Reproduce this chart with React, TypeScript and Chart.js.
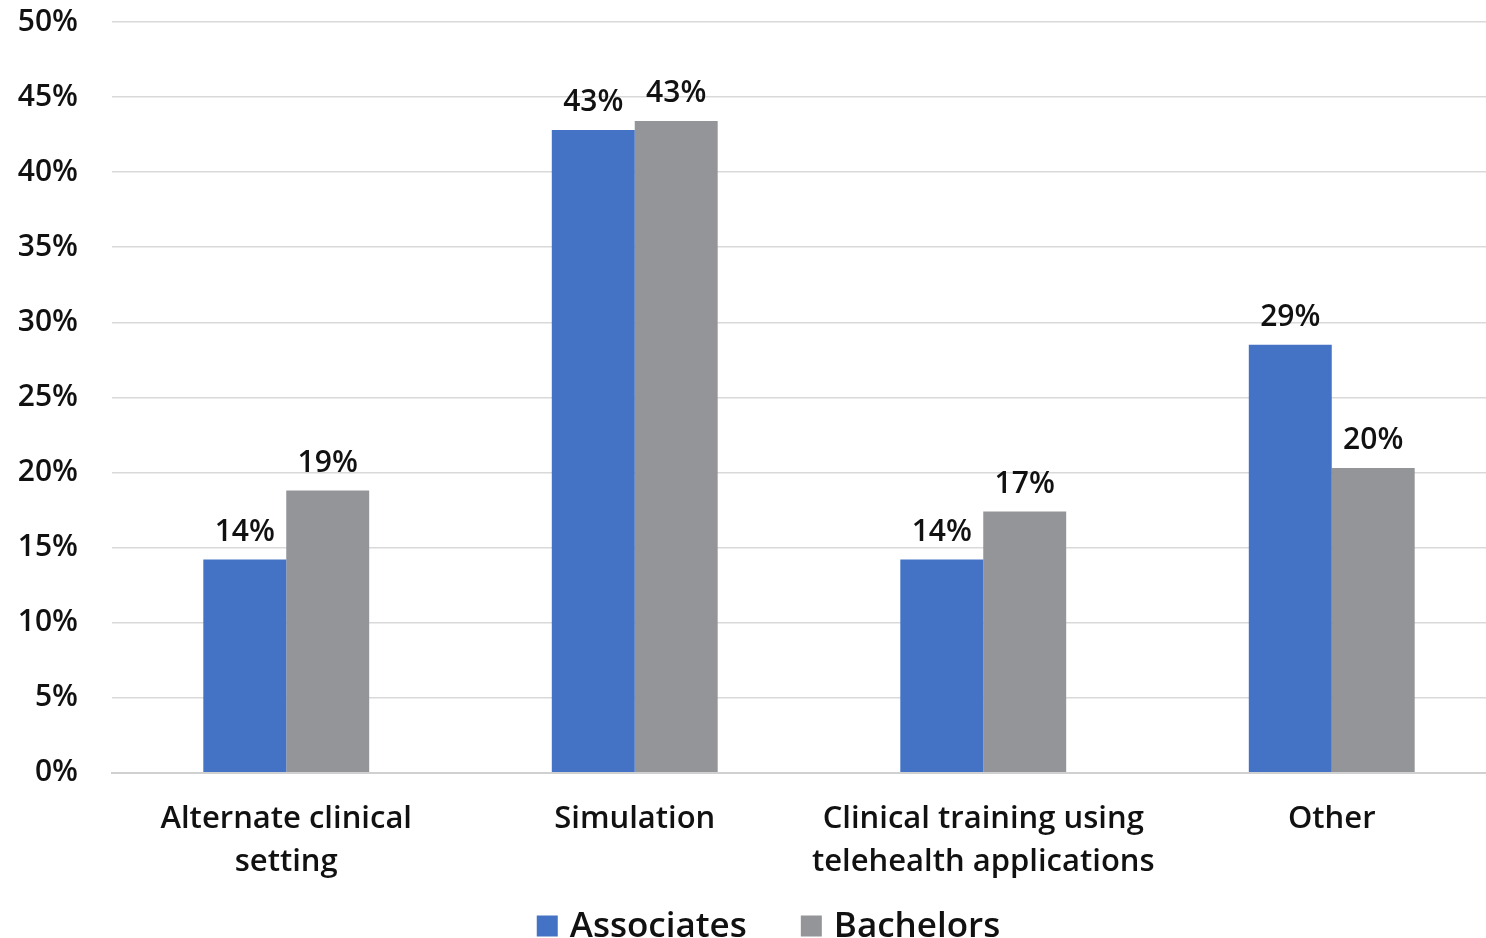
import React, { useEffect, useRef } from "react";
import { Chart, registerables } from "chart.js";

Chart.register(...registerables);

const categories: string[][] = [
  ["Alternate clinical", "setting"],
  ["Simulation"],
  ["Clinical training using", "telehealth applications"],
  ["Other"],
];
const associates: number[] = [14.2, 42.8, 14.2, 28.5];
const bachelors: number[] = [18.8, 43.4, 17.4, 20.3];
const yTicks: number[] = [0, 5, 10, 15, 20, 25, 30, 35, 40, 45, 50];

const FONT = "'Open Sans', 'Noto Sans', sans-serif";
const TEXT = "#111";

// Percent labels above each bar
const valueLabels = {
  id: "valueLabels",
  afterDatasetsDraw(chart: any) {
    const ctx = chart.ctx;
    ctx.save();
    ctx.font = `600 30px ${FONT}`;
    ctx.fillStyle = TEXT;
    ctx.textAlign = "center";
    ctx.textBaseline = "alphabetic";
    chart.data.datasets.forEach((ds: any, di: number) => {
      const meta = chart.getDatasetMeta(di);
      meta.data.forEach((bar: any, i: number) => {
        const v = ds.data[i] as number;
        ctx.fillText(`${Math.round(v)}%`, bar.x, bar.y - 19);
      });
    });
    ctx.restore();
  },
};

// Legend row at the bottom, built from the datasets
const bottomLegend = {
  id: "bottomLegend",
  afterDraw(chart: any) {
    const ctx = chart.ctx;
    const box = 21;
    const textGap = 12;
    const itemGap = 54;
    ctx.save();
    ctx.font = `600 35px ${FONT}`;
    ctx.textBaseline = "middle";
    ctx.textAlign = "left";
    const items = chart.data.datasets.map((ds: any) => ({
      label: ds.label as string,
      color: ds.backgroundColor as string,
      w: ctx.measureText(ds.label).width,
    }));
    const total =
      items.reduce((s: number, it: any) => s + box + textGap + it.w, 0) +
      itemGap * (items.length - 1);
    let x = chart.width / 2 - total / 2;
    const cy = chart.height - 12;
    items.forEach((it: any) => {
      ctx.fillStyle = it.color;
      ctx.fillRect(x, cy - box / 2, box, box);
      x += box + textGap;
      ctx.fillStyle = TEXT;
      ctx.fillText(it.label, x, cy + 1);
      x += it.w + itemGap;
    });
    ctx.restore();
  },
};

export default function App() {
  const ref = useRef<HTMLCanvasElement>(null);

  useEffect(() => {
    if (!ref.current) return;
    const chart = new Chart(ref.current, {
      type: "bar",
      data: {
        labels: categories,
        datasets: [
          { label: "Associates", data: associates, backgroundColor: "#4472C4" },
          { label: "Bachelors", data: bachelors, backgroundColor: "#939598" },
        ],
      },
      options: {
        responsive: false,
        animation: false,
        layout: { padding: { top: 22, right: 31, left: 0, bottom: 29 } },
        datasets: {
          bar: { categoryPercentage: 0.476, barPercentage: 1.0 },
        },
        scales: {
          x: {
            grid: { display: false, drawTicks: false },
            border: { display: true, color: "#d0d0d0", width: 2 },
            ticks: {
              color: TEXT,
              font: { family: FONT, size: 31, weight: "600", lineHeight: 1.39 },
              padding: 25,
              maxRotation: 0,
              autoSkip: false,
            },
          },
          y: {
            min: 0,
            max: 50,
            afterBuildTicks: (scale: any) => {
              scale.ticks = yTicks.map((v) => ({ value: v }));
            },
            afterFit: (scale: any) => {
              scale.width = 112;
            },
            grid: {
              color: "#d9d9d9",
              lineWidth: 1.5,
              drawTicks: true,
              tickLength: 30,
              tickColor: "rgba(0,0,0,0)",
            },
            border: { display: false },
            ticks: {
              color: TEXT,
              font: { family: FONT, size: 30, weight: "600" },
              padding: 4,
              callback: (v: any) => `${v}%`,
            },
          },
        },
        plugins: {
          legend: { display: false },
          tooltip: { enabled: false },
        },
      },
      plugins: [valueLabels, bottomLegend],
    });
    return () => chart.destroy();
  }, []);

  return (
    <div
      style={{
        position: "fixed",
        left: 0,
        top: 0,
        width: 1486,
        height: 938,
        overflow: "hidden",
        background: "#fff",
      }}
    >
      <canvas ref={ref} width={1537} height={938} style={{ display: "block" }} />
    </div>
  );
}
